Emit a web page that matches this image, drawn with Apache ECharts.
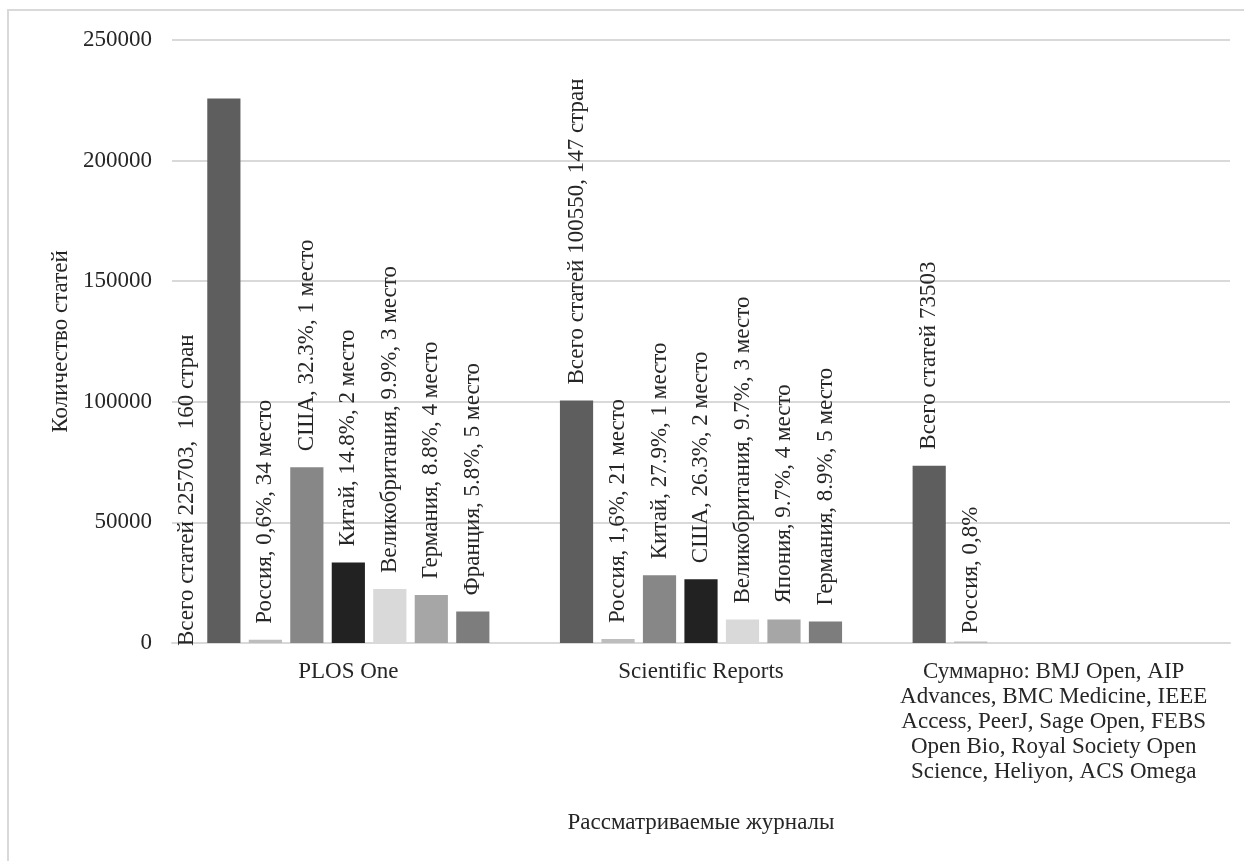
<!DOCTYPE html>
<html>
<head>
<meta charset="utf-8">
<script src="https://cdn.jsdelivr.net/npm/echarts@6/dist/echarts.min.js"></script>
<style>
  html, body { margin: 0; padding: 0; background: #fff; }
  #main { width: 1244px; height: 861px; }
</style>
</head>
<body>
<div id="main"></div>
<script>
// журналы (категории оси X)
const categories = [
  'PLOS One',
  'Scientific Reports',
  'Суммарно: BMJ Open, AIP\nAdvances, BMC Medicine, IEEE\nAccess, PeerJ, Sage Open, FEBS\nOpen Bio, Royal Society Open\nScience, Heliyon, ACS Omega'
]
const yTicks = [0, 50000, 100000, 150000, 200000, 250000]

// значения столбцов по позициям внутри группы
const totalValues = [225703, 100550, 73503]
const russiaValues = [1354, 1609, 588]
const place1Values = [72902, 28053, null]
const place2Values = [33404, 26445, null]
const place3Values = [22345, 9753, null]
const place4Values = [19862, 9753, null]
const place5Values = [13091, 8949, null]

// подписи данных
const totalLabels = ['Всего статей 225703,  160 стран', 'Всего статей 100550, 147 стран', 'Всего статей 73503']
const russiaLabels = ['Россия, 0,6%, 34 место', 'Россия, 1,6%, 21 место', 'Россия, 0,8%']
const place1Labels = ['США, 32.3%, 1 место', 'Китай, 27.9%, 1 место', '']
const place2Labels = ['Китай, 14.8%, 2 место', 'США, 26.3%, 2 место', '']
const place3Labels = ['Великобритания, 9.9%, 3 место', 'Великобритания, 9.7%, 3 место', '']
const place4Labels = ['Германия, 8.8%, 4 место', 'Япония, 9.7%, 4 место', '']
const place5Labels = ['Франция, 5.8%, 5 место', 'Германия, 8.9%, 5 место', '']

const FONT = '"Liberation Serif", "Times New Roman", serif'
const TEXT = '#262626'
const FS = 23

const barLabel = {
  show: true,
  position: 'top',
  rotate: 90,
  align: 'left',
  verticalAlign: 'middle',
  distance: 16,
  fontFamily: FONT,
  fontSize: FS,
  color: TEXT
}

function makeSeries(name, values, labels, color, overrides) {
  return {
    name: name,
    type: 'bar',
    barGap: '25%',
    barCategoryGap: '20%',
    itemStyle: { color: color },
    label: barLabel,
    data: values.map(function (v, i) {
      const item = { value: v, label: { formatter: labels[i] } }
      if (overrides && overrides[i]) Object.assign(item.label, overrides[i])
      return item
    })
  }
}

const chart = echarts.init(document.getElementById('main'))
chart.setOption({
  animation: false,
  graphic: [{
    type: 'rect',
    shape: { x: 8, y: 10, width: 1260, height: 900 },
    style: { fill: 'none', stroke: '#d9d9d9', lineWidth: 2 },
    silent: true
  }],
  grid: { left: 172, right: 14, top: 40, bottom: 218 },
  xAxis: {
    type: 'category',
    data: categories,
    name: 'Рассматриваемые журналы',
    nameLocation: 'middle',
    nameGap: 168,
    nameTextStyle: { fontFamily: FONT, fontSize: FS, color: TEXT },
    axisLine: { lineStyle: { color: '#d9d9d9', width: 2 } },
    axisTick: { show: false },
    axisLabel: {
      interval: 0,
      margin: 16,
      fontFamily: FONT,
      fontSize: FS,
      lineHeight: 25,
      color: TEXT
    }
  },
  yAxis: {
    type: 'value',
    min: yTicks[0],
    max: yTicks[yTicks.length - 1],
    interval: yTicks[1] - yTicks[0],
    name: 'Количество статей',
    nameLocation: 'middle',
    nameGap: 96,
    nameTextStyle: { fontFamily: FONT, fontSize: FS, color: TEXT },
    axisLine: { show: false },
    axisTick: { show: false },
    splitLine: { lineStyle: { color: '#d9d9d9', width: 2 } },
    axisLabel: {
      margin: 20,
      fontFamily: FONT,
      fontSize: FS,
      color: TEXT,
      formatter: function (v) { return String(v) }
    }
  },
  series: [
    makeSeries('Всего', totalValues, totalLabels, '#5e5e5e', [
      { position: 'insideBottom', distance: 0, offset: [-3, -37] }
    ]),
    makeSeries('Россия', russiaValues, russiaLabels, '#bdbdbd', [null, null, { distance: 8 }]),
    makeSeries('1 место', place1Values, place1Labels, '#878787'),
    makeSeries('2 место', place2Values, place2Labels, '#222222'),
    makeSeries('3 место', place3Values, place3Labels, '#d9d9d9'),
    makeSeries('4 место', place4Values, place4Labels, '#a6a6a6'),
    makeSeries('5 место', place5Values, place5Labels, '#7d7d7d')
  ]
})
</script>
</body>
</html>
